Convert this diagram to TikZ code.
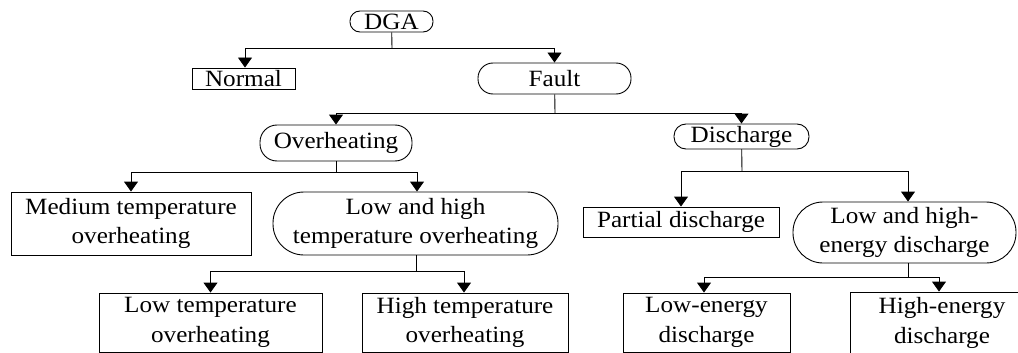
\documentclass[tikz,border=0pt]{standalone}
\usepackage{fontspec}
\setmainfont[FakeStretch=1.08]{Liberation Serif}
\usetikzlibrary{arrows.meta}
\tikzset{
  base/.style={draw, line width=0.9pt, inner sep=0pt, align=center, font=\fontsize{23.3}{29.5}\selectfont},
  sqbox/.style={base},
  rdbox/.style={base, rounded corners=#1},
  conn/.style={line width=0.9pt},
  arr/.style={line width=0.9pt, -{Triangle[length=10pt,width=14pt]}}
}
\begin{document}
\begin{tikzpicture}[x=1pt,y=-1pt]
\useasboundingbox (0,0) rectangle (1018,353);
\clip (0,0) rectangle (1018,353);
% nodes
\node[rdbox=10pt, minimum width=83pt, minimum height=21pt] (dga) at (391.5,21.5) {DGA};
\node[sqbox, minimum width=103pt, minimum height=21pt] (normal) at (243.5,78.5) {Normal};
\node[rdbox=15pt, minimum width=153pt, minimum height=31pt] (fault) at (554.5,78.5) {Fault};
\node[rdbox=17pt, minimum width=152pt, minimum height=36pt] (overh) at (336,143) {Overheating};
\node[rdbox=12pt, minimum width=135pt, minimum height=25pt] (disch) at (741.5,136.5) {Discharge};
\node[sqbox, minimum width=240pt, minimum height=63pt] (medium) at (131,223.5) {Medium temperature\\overheating};
\node[rdbox=31pt, minimum width=285pt, minimum height=63pt] (lht) at (415.5,223.5) {Low and high\\temperature overheating};
\node[sqbox, minimum width=196pt, minimum height=30pt] (partial) at (681,222) {Partial discharge};
\node[rdbox=30pt, minimum width=223pt, minimum height=61pt] (lhe) at (904.5,232.5) {Low and high-\\energy discharge};
\node[sqbox, minimum width=223pt, minimum height=59pt] (lowt) at (210.5,322.5) {Low temperature\\overheating};
\node[sqbox, minimum width=206pt, minimum height=59pt] (hight) at (465,322.5) {High temperature\\overheating};
\node[sqbox, minimum width=167pt, minimum height=59pt] (lowe) at (706.5,322.5) {Low-energy\\discharge};
\node[sqbox, minimum width=184pt, minimum height=62pt] (highe) at (942,323) {High-energy\\discharge};
% junctions
\coordinate (j1) at (392,48);
\coordinate (j2) at (555,113);
\coordinate (j3) at (336,172);
\coordinate (j4) at (416,271);
\coordinate (j5) at (742,171);
\coordinate (j6) at (908,277);
% connectors
\draw[conn] (dga) -- (j1);
\draw[arr] (j1) -| ([xshift=1.5pt]normal.north);
\draw[arr] (j1) -| (fault.north);
\draw[conn] (fault) -- (j2);
\draw[arr] (j2) -| (overh.north);
\draw[arr] (j2) -| (disch.north);
\draw[conn] (overh) -- (j3);
\draw[arr] (j3) -| (medium.north);
\draw[arr] (j3) -| ([xshift=1.5pt]lht.north);
\draw[conn] (lht.south -| j4) -- (j4);
\draw[arr] (j4) -| (lowt.north);
\draw[arr] (j4) -| ([xshift=-1pt]hight.north);
\draw[conn] (disch) -- (j5);
\draw[arr] (j5) -| (partial.north);
\draw[arr] (j5) -| ([xshift=3.5pt]lhe.north);
\draw[conn] (lhe.south -| j6) -- (j6);
\draw[arr] (j6) -| ([xshift=-2.5pt]lowe.north);
\draw[arr] (j6) -| ([xshift=-3pt]highe.north);
\end{tikzpicture}
\end{document}
